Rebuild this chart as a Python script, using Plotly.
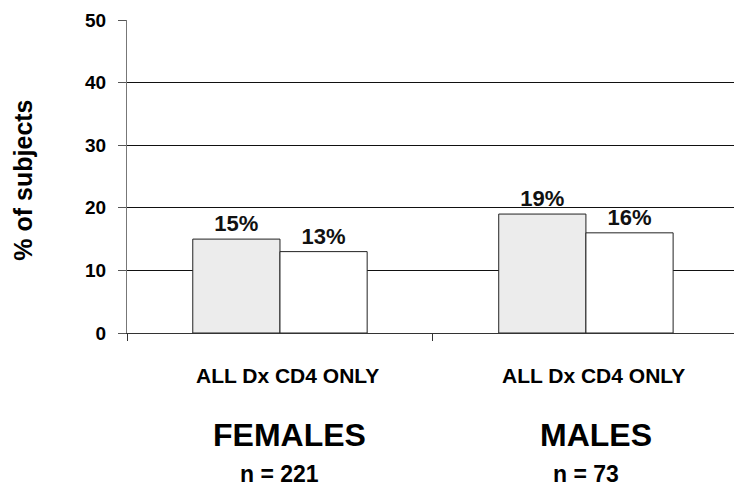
import plotly.graph_objects as go

groups = ["FEMALES", "MALES"]
group_n = ["n = 221", "n = 73"]
series_names = ["ALL Dx", "CD4 ONLY"]
all_dx = [15, 19]
cd4_only = [13, 16]
y_ticks = [0, 10, 20, 30, 40, 50]

FONT = "Arial, Liberation Sans, sans-serif"
PLOT_H = 313.0


def py(px_offset):
    return -px_offset / PLOT_H


def ppx(x):
    return (x - 127) / 607.0


fig = go.Figure()
for name, vals, col in [(series_names[0], all_dx, "#ececec"), (series_names[1], cd4_only, "#ffffff")]:
    fig.add_trace(go.Bar(
        x=groups, y=vals, name=name,
        marker=dict(color=col, line=dict(color="#222222", width=1)),
        text=[f"<b>{v}%</b>" for v in vals], textposition="outside",
        textfont=dict(family=FONT, size=22, color="#111111"),
        cliponaxis=False,
    ))

annotations = []
for g, n in zip(groups, group_n):
    annotations.append(dict(x=g, y=py(42), xref="x", yref="paper", xshift=8,
                            xanchor="center", yanchor="middle",
                            text="<b>" + " ".join(series_names) + "</b>",
                            showarrow=False, font=dict(family=FONT, size=21, color="#000")))
    annotations.append(dict(x=g, y=py(102), xref="x", yref="paper", xshift=10,
                            xanchor="center", yanchor="middle",
                            text="<b>" + g + "</b>",
                            showarrow=False, font=dict(family=FONT, size=32, color="#000")))
    annotations.append(dict(x=g, y=py(141), xref="x", yref="paper", xshift=0,
                            xanchor="center", yanchor="middle",
                            text="<b>" + n + "</b>",
                            showarrow=False, font=dict(family=FONT, size=23, color="#000")))

annotations.append(dict(x=ppx(23), y=0.49, xref="paper", yref="paper",
                        text="<b>% of subjects</b>", textangle=-90,
                        xanchor="center", yanchor="middle",
                        showarrow=False, font=dict(family=FONT, size=25, color="#000")))

fig.update_layout(
    width=734, height=491,
    margin=dict(l=127, r=0, t=20, b=158),
    paper_bgcolor="white", plot_bgcolor="white",
    barmode="group", bargap=0.43, bargroupgap=0,
    showlegend=False,
    font=dict(family=FONT, color="#000"),
    annotations=annotations,
    xaxis=dict(
        range=[-0.5, 1.484], showticklabels=False,
        ticks="outside", tickson="boundaries", ticklen=7, tickcolor="#333",
        showline=True, linecolor="#333", linewidth=1,
        showgrid=False, zeroline=False,
    ),
    yaxis=dict(
        range=[0, 50], tickvals=y_ticks,
        ticktext=[f"<b>{v}</b>" for v in y_ticks],
        tickfont=dict(family=FONT, size=19, color="#000"),
        ticks="outside", ticklen=8, tickcolor="#555",
        ticklabelstandoff=8,
        showline=True, linecolor="#777", linewidth=1,
        showgrid=True, gridcolor="#111", gridwidth=1,
        zeroline=False,
    ),
)

fig.write_html("out.html")
